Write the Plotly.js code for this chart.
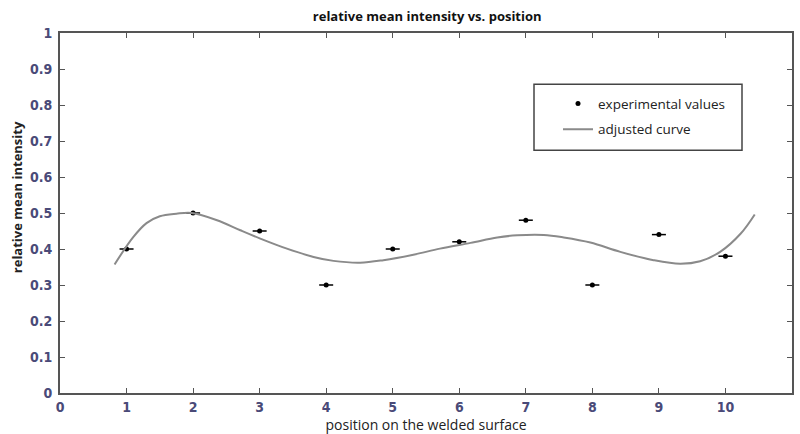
<!DOCTYPE html>
<html>
<head>
<meta charset="utf-8">
<script src="https://cdn.plot.ly/plotly-3.0.1.min.js"></script>
<style>html,body{margin:0;padding:0;background:#fff;}#chart{width:800px;height:434px;}</style>
</head>
<body>
<div id="chart"></div>
<script>
// experimental values
const positions = [1, 2, 3, 4, 5, 6, 7, 8, 9, 10];
const intensities = [0.40, 0.50, 0.45, 0.30, 0.40, 0.42, 0.48, 0.30, 0.44, 0.38];
// adjusted curve
const curveX = [0.82, 1.10, 1.30, 1.50, 1.75, 1.98, 2.36, 2.71, 3.01, 3.41, 3.81, 4.11, 4.51, 4.86, 5.31, 5.71, 6.17, 6.57, 6.87, 7.27, 7.57, 7.97, 8.42, 8.92, 9.32, 9.62, 9.92, 10.23, 10.44];
const curveY = [0.357, 0.433, 0.472, 0.491, 0.498, 0.500, 0.480, 0.452, 0.429, 0.401, 0.378, 0.367, 0.362, 0.369, 0.384, 0.401, 0.417, 0.432, 0.438, 0.439, 0.432, 0.418, 0.392, 0.369, 0.359, 0.366, 0.392, 0.443, 0.496];
const xTicks = [0, 1, 2, 3, 4, 5, 6, 7, 8, 9, 10, 11];
const yTicks = [0, 0.1, 0.2, 0.3, 0.4, 0.5, 0.6, 0.7, 0.8, 0.9, 1];
const yTickText = ['0', '0.1', '0.2', '0.3', '0.4', '0.5', '0.6', '0.7', '0.8', '0.9', '1'];

const tickFont = {family: 'DejaVu Sans Condensed, Liberation Sans Narrow, DejaVu Sans, sans-serif', size: 14, color: '#4a4a78', weight: 'bold'};
const textFont = 'Open Sans, Noto Sans, sans-serif';

const traces = [
  {
    x: positions, y: intensities, type: 'scatter', mode: 'markers',
    name: 'experimental values', legendgroup: 'a',
    marker: {symbol: 'circle', size: 5, color: '#000'},
    hoverinfo: 'skip'
  },
  {
    x: positions, y: intensities, type: 'scatter', mode: 'markers',
    showlegend: false, legendgroup: 'a',
    marker: {symbol: 'line-ew', size: 10, line: {width: 1.5, color: '#000'}},
    hoverinfo: 'skip'
  },
  {
    x: curveX, y: curveY, type: 'scatter', mode: 'lines',
    name: 'adjusted curve', legendgroup: 'b',
    line: {color: '#8a8a8a', width: 2, shape: 'spline', smoothing: 1},
    hoverinfo: 'skip'
  }
];

const axisCommon = {
  showgrid: false, zeroline: false,
  showline: true, linecolor: '#555', linewidth: 2, mirror: 'allticks',
  ticks: 'inside', ticklen: 5, tickwidth: 1, tickcolor: '#555',
  tickfont: tickFont, fixedrange: true
};

const layout = {
  width: 800, height: 434,
  margin: {l: 60, r: 8, t: 33, b: 41, pad: 0},
  paper_bgcolor: '#fff', plot_bgcolor: '#fff',
  title: {
    text: '<b>relative mean intensity vs. position</b>',
    font: {family: textFont, size: 13, color: '#111'},
    x: 0.534, xanchor: 'center', xref: 'container',
    y: 0.962, yanchor: 'middle', yref: 'container'
  },
  xaxis: Object.assign({}, axisCommon, {
    range: [0, 11], tickvals: xTicks, ticktext: xTicks.map(String),
    title: {text: 'position on the welded surface', font: {family: textFont, size: 14, color: '#222'}, standoff: 0}
  }),
  yaxis: Object.assign({}, axisCommon, {
    range: [0, 1], tickvals: yTicks, ticktext: yTickText, ticklabelstandoff: 3
  }),
  annotations: [{
    text: '<b>relative mean intensity</b>', textangle: -90,
    xref: 'paper', yref: 'paper', x: -0.0587, y: 0.544,
    xanchor: 'center', yanchor: 'middle', showarrow: false,
    font: {family: textFont, size: 13, color: '#222'}
  }],
  shapes: [{
    type: 'rect', xref: 'paper', yref: 'paper',
    x0: (534 - 60) / 732, x1: (742 - 60) / 732,
    y0: (392.7 - 150) / 360, y1: (392.7 - 84) / 360,
    line: {color: '#444', width: 1.5}, fillcolor: 'rgba(0,0,0,0)'
  }],
  showlegend: true,
  legend: {
    x: (558 - 60) / 732, y: (392.7 - 88) / 360, xanchor: 'left', yanchor: 'top',
    bgcolor: 'rgba(0,0,0,0)', borderwidth: 0,
    traceorder: 'grouped', tracegroupgap: 5,
    font: {family: textFont, size: 13.5, color: '#222'}
  }
};

Plotly.newPlot('chart', traces, layout, {displayModeBar: false, staticPlot: true});
</script>
</body>
</html>
